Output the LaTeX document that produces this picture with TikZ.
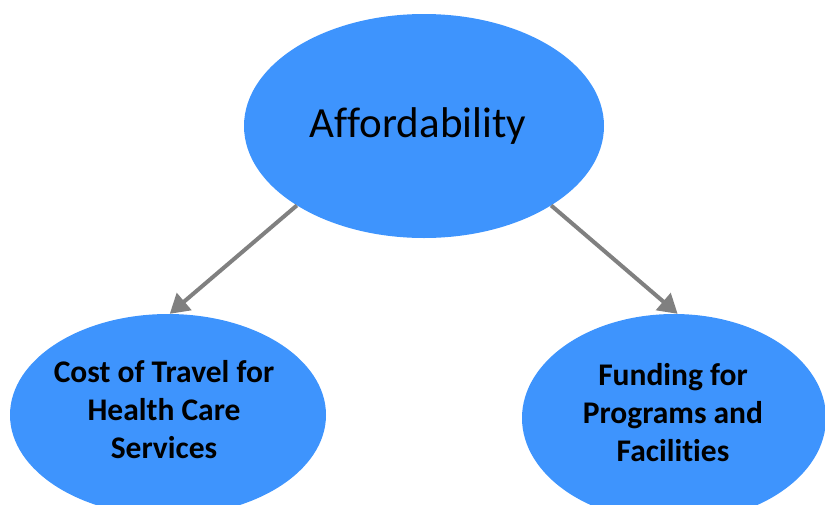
\documentclass[tikz,border=0pt]{standalone}
\usepackage{fontspec}
\setmainfont[Ligatures=NoCommon]{Carlito}
\usetikzlibrary{shapes.geometric,arrows.meta}
\definecolor{bubble}{RGB}{62,148,253}
\definecolor{link}{RGB}{128,128,128}
\tikzset{
  bubble/.style={ellipse, fill=bubble, draw=none, inner sep=0pt},
  toptext/.style={inner sep=0pt, text=black, font=\fontsize{43}{50}\selectfont},
  subtext/.style={inner sep=0pt, align=center, text=black,
    font=\fontsize{31.5}{38}\selectfont\bfseries},
  link/.style={draw=link, line width=4pt, -{Triangle[length=19pt,width=22pt]}}
}
\begin{document}
\begin{tikzpicture}[x=1pt,y=-1pt]
\useasboundingbox (0,0) rectangle (825,504);
\clip (0,0) rectangle (825,504);
\node[bubble, minimum width=360pt, minimum height=224pt] (top) at (424,126) {};
\node[bubble, minimum width=316pt, minimum height=202pt] (left) at (168,415) {};
\node[bubble, minimum width=304pt, minimum height=208pt] (right) at (674,418) {};
\node[toptext, anchor=base] (toplabel) at (418,137) {Affordability};
\node[subtext] (leftlabel) at (164,410) {Cost of Travel for\\Health Care\\Services};
\node[subtext] (rightlabel) at (673,413) {Funding for\\Programs and\\Facilities};
\draw[link] (top.212) -- (left.89);
\draw[link] (top.328) -- (right.88);
\end{tikzpicture}
\end{document}
